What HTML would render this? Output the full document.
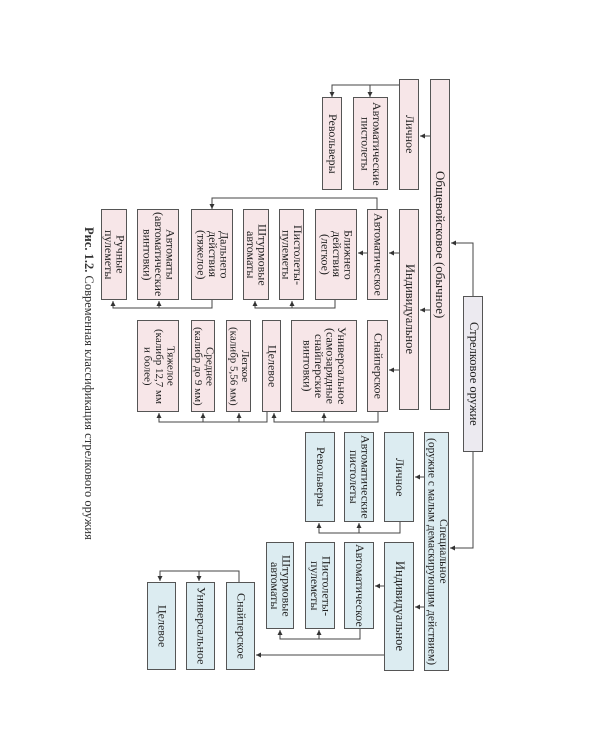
<!DOCTYPE html>
<html><head><meta charset="utf-8"><style>
body{margin:0;width:600px;height:750px;background:#fff;position:relative;overflow:hidden;font-family:"Liberation Serif",serif;}
.b{position:absolute;box-sizing:border-box;border:1px solid #555;writing-mode:vertical-rl;display:flex;align-items:center;justify-content:center;text-align:center;font-size:12px;line-height:11.5px;color:#222;white-space:nowrap;}
.p{background:#f7e6e8;}
.c{background:#dcecf1;}
svg{position:absolute;left:0;top:0;}
</style></head><body>
<svg width="600" height="750">
<defs><marker id="a" markerWidth="6" markerHeight="6" refX="5" refY="3" orient="auto" markerUnits="userSpaceOnUse"><path d="M0,0.5 L5,3 L0,5.5z" fill="#333"/></marker></defs>
<g stroke="#444" stroke-width="1" fill="none">
<polyline points="473,296 473,243 451,243" marker-end="url(#a)"/>
<polyline points="473,452 473,548 450,548" marker-end="url(#a)"/>
<line x1="430" y1="136" x2="420" y2="136" marker-end="url(#a)"/>
<line x1="430" y1="310" x2="420" y2="310" marker-end="url(#a)"/>
<polyline points="399,85 332,85 332,97" marker-end="url(#a)"/>
<line x1="370" y1="85" x2="370" y2="97" marker-end="url(#a)"/>
<line x1="399" y1="253" x2="389" y2="253" marker-end="url(#a)"/>
<line x1="399" y1="370" x2="389" y2="370" marker-end="url(#a)"/>
<line x1="367" y1="253" x2="358" y2="253" marker-end="url(#a)"/>
<polyline points="377,209 377,198 212,198 212,209" marker-end="url(#a)"/>
<polyline points="335,300 335,308 255,308 255,301" marker-end="url(#a)"/>
<line x1="292" y1="308" x2="292" y2="301" marker-end="url(#a)"/>
<polyline points="212,300 212,308 113,308 113,301" marker-end="url(#a)"/>
<line x1="159" y1="308" x2="159" y2="301" marker-end="url(#a)"/>
<polyline points="378,412 378,422 274,422 274,413" marker-end="url(#a)"/>
<line x1="324" y1="422" x2="324" y2="413" marker-end="url(#a)"/>
<polyline points="267,412 267,422 159,422 159,413" marker-end="url(#a)"/>
<line x1="203" y1="422" x2="203" y2="413" marker-end="url(#a)"/>
<line x1="239" y1="422" x2="239" y2="413" marker-end="url(#a)"/>
<line x1="424" y1="477" x2="415" y2="477" marker-end="url(#a)"/>
<line x1="424" y1="607" x2="415" y2="607" marker-end="url(#a)"/>
<polyline points="400,522 400,533 319,533 319,523" marker-end="url(#a)"/>
<line x1="359" y1="533" x2="359" y2="523" marker-end="url(#a)"/>
<line x1="384" y1="586" x2="375" y2="586" marker-end="url(#a)"/>
<polyline points="360,629 360,639 280,639 280,630" marker-end="url(#a)"/>
<line x1="319" y1="639" x2="319" y2="630" marker-end="url(#a)"/>
<line x1="384" y1="655" x2="256" y2="655" marker-end="url(#a)"/>
<polyline points="239,582 239,571 160,571 160,581" marker-end="url(#a)"/>
<line x1="199" y1="571" x2="199" y2="581" marker-end="url(#a)"/>
</g></svg>

<div class="b" style="left:463px;top:296px;width:20px;height:156px;background:#eceaf0;font-size:12.5px">Стрелковое оружие</div>

<div class="b p" style="left:430px;top:79px;width:20px;height:331px;font-size:13px">Общевойсковое (обычное)</div>
<div class="b p" style="left:399px;top:79px;width:20px;height:111px">Личное</div>
<div class="b p" style="left:353px;top:97px;width:35px;height:93px">Автоматические<br>пистолеты</div>
<div class="b p" style="left:322px;top:97px;width:20px;height:93px">Револьверы</div>
<div class="b p" style="left:399px;top:209px;width:20px;height:201px;font-size:12.5px">Индивидуальное</div>
<div class="b p" style="left:367px;top:209px;width:21px;height:91px">Автоматическое</div>
<div class="b p" style="left:315px;top:209px;width:42px;height:91px">Ближнего<br>действия<br>(легкое)</div>
<div class="b p" style="left:279px;top:209px;width:25px;height:91px">Пистолеты-<br>пулеметы</div>
<div class="b p" style="left:243px;top:209px;width:26px;height:91px">Штурмовые<br>автоматы</div>
<div class="b p" style="left:191px;top:209px;width:42px;height:91px">Дальнего<br>действия<br>(тяжелое)</div>
<div class="b p" style="left:137px;top:209px;width:42px;height:91px">Автоматы<br>(автоматические<br>винтовки)</div>
<div class="b p" style="left:101px;top:209px;width:26px;height:91px">Ручные<br>пулеметы</div>
<div class="b p" style="left:367px;top:320px;width:21px;height:92px">Снайперское</div>
<div class="b p" style="left:291px;top:320px;width:66px;height:92px">Универсальное<br>(самозарядные<br>снайперские<br>винтовки)</div>
<div class="b p" style="left:262px;top:320px;width:19px;height:92px">Целевое</div>
<div class="b p" style="left:226px;top:320px;width:25px;height:92px;font-size:11px">Легкое<br>(калибр 5,56 мм)</div>
<div class="b p" style="left:191px;top:320px;width:24px;height:92px;font-size:11px">Среднее<br>(калибр до 9 мм)</div>
<div class="b p" style="left:137px;top:320px;width:42px;height:92px;font-size:11px">Тяжелое<br>(калибр 12,7 мм<br>и более)</div>

<div class="b c" style="left:424px;top:432px;width:25px;height:239px;font-size:11.5px">Специальное<br>(оружие с малым демаскирующим действием)</div>
<div class="b c" style="left:384px;top:432px;width:30px;height:90px">Личное</div>
<div class="b c" style="left:344px;top:432px;width:30px;height:90px">Автоматические<br>пистолеты</div>
<div class="b c" style="left:305px;top:432px;width:30px;height:90px">Револьверы</div>
<div class="b c" style="left:384px;top:542px;width:30px;height:129px;font-size:12.5px">Индивидуальное</div>
<div class="b c" style="left:344px;top:542px;width:30px;height:87px">Автоматическое</div>
<div class="b c" style="left:305px;top:542px;width:30px;height:87px">Пистолеты-<br>пулеметы</div>
<div class="b c" style="left:266px;top:542px;width:28px;height:87px">Штурмовые<br>автоматы</div>
<div class="b c" style="left:226px;top:582px;width:29px;height:88px">Снайперское</div>
<div class="b c" style="left:186px;top:582px;width:29px;height:88px">Универсальное</div>
<div class="b c" style="left:147px;top:582px;width:29px;height:88px">Целевое</div>

<div style="position:absolute;left:81px;top:227px;width:15px;height:300px;writing-mode:vertical-rl;font-size:12.5px;line-height:15px;color:#333;white-space:nowrap"><b>Рис. 1.2.</b> Современная классификация стрелкового оружия</div>
</body></html>
